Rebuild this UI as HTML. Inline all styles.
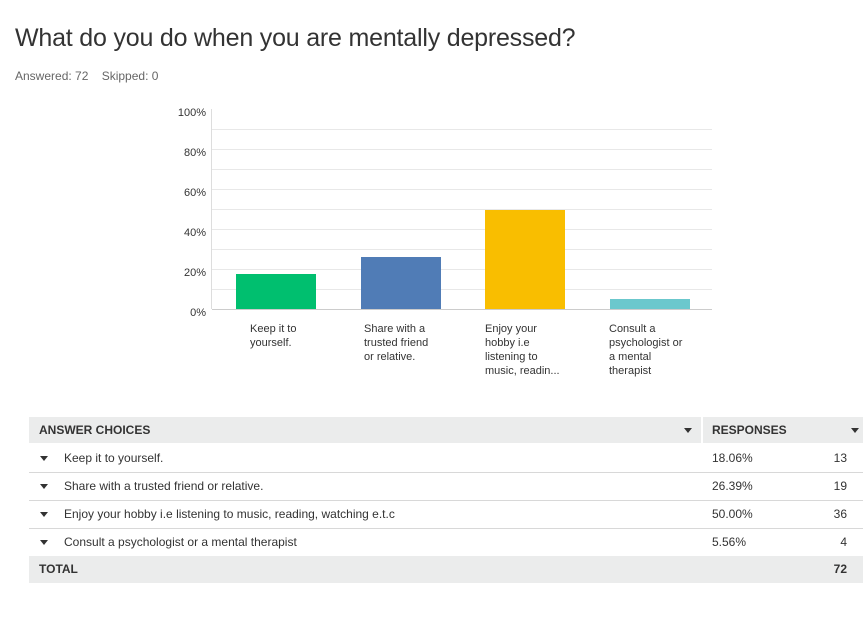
<!DOCTYPE html>
<html><head><meta charset="utf-8"><style>
body{margin:0;width:863px;height:618px;background:#fff;font-family:"Liberation Sans",sans-serif;color:#333;position:relative;overflow:hidden}
.a{position:absolute}
h1{position:absolute;left:15px;top:24px;margin:0;font-weight:normal;font-size:25px;color:#333;letter-spacing:-0.2px}
.yl{position:absolute;right:657px;font-size:11px;color:#333;width:40px;text-align:right}
.xl{position:absolute;top:322px;font-size:11px;line-height:14px;color:#333}
.row{position:absolute;left:29px;width:834px;height:28px;font-size:12px;line-height:28px;border-bottom:1px solid #d8d8d8}
.tri{display:inline-block;width:0;height:0;border-left:4px solid transparent;border-right:4px solid transparent;border-top:5px solid #333;vertical-align:middle}
</style></head><body>
<h1>What do you do when you are mentally depressed?</h1>
<div class="a" style="left:15px;top:69px;font-size:12px;color:#666">Answered: 72&nbsp;&nbsp;&nbsp;&nbsp;Skipped: 0</div>
<svg class="a" style="left:0;top:0" width="863" height="400">
<g stroke="#e8e8e8" stroke-width="1">
<line x1="212" x2="712" y1="129.5" y2="129.5"/><line x1="212" x2="712" y1="149.5" y2="149.5"/><line x1="212" x2="712" y1="169.5" y2="169.5"/><line x1="212" x2="712" y1="189.5" y2="189.5"/><line x1="212" x2="712" y1="209.5" y2="209.5"/><line x1="212" x2="712" y1="229.5" y2="229.5"/><line x1="212" x2="712" y1="249.5" y2="249.5"/><line x1="212" x2="712" y1="269.5" y2="269.5"/><line x1="212" x2="712" y1="289.5" y2="289.5"/>
</g>
<line x1="211.5" x2="211.5" y1="109" y2="309" stroke="#ddd"/>
<line x1="212" x2="712" y1="309.5" y2="309.5" stroke="#ccc"/>
<rect x="236" y="274" width="80" height="35" fill="#00bf6f"/>
<rect x="361" y="257" width="80" height="52" fill="#507cb6"/>
<rect x="485" y="210" width="80" height="99" fill="#f9be00"/>
<rect x="610" y="299" width="80" height="10" fill="#6bc8cd"/>
</svg>
<div class="yl" style="top:107px">100%</div>
<div class="yl" style="top:147px">80%</div>
<div class="yl" style="top:187px">60%</div>
<div class="yl" style="top:227px">40%</div>
<div class="yl" style="top:267px">20%</div>
<div class="yl" style="top:307px">0%</div>
<div class="xl" style="left:250px">Keep it to<br>yourself.</div>
<div class="xl" style="left:364px">Share with a<br>trusted friend<br>or relative.</div>
<div class="xl" style="left:485px">Enjoy your<br>hobby i.e<br>listening to<br>music, readin...</div>
<div class="xl" style="left:609px">Consult a<br>psychologist or<br>a mental<br>therapist</div>
<div class="row" style="top:417px;height:26px;line-height:26px;background:#ebecec;border:none;font-weight:bold">
<span style="position:absolute;left:10px">ANSWER CHOICES</span>
<span class="tri" style="position:absolute;left:655px;top:11px"></span>
<span style="position:absolute;left:672px;top:0;width:2px;height:26px;background:#fff"></span>
<span style="position:absolute;left:683px">RESPONSES</span>
<span class="tri" style="position:absolute;left:822px;top:11px"></span></div>
<div class="row" style="top:444px"><span class="tri" style="position:absolute;left:11px;top:12px"></span><span style="position:absolute;left:35px">Keep it to yourself.</span><span style="position:absolute;left:683px">18.06%</span><span style="position:absolute;right:16px">13</span></div>
<div class="row" style="top:472px"><span class="tri" style="position:absolute;left:11px;top:12px"></span><span style="position:absolute;left:35px">Share with a trusted friend or relative.</span><span style="position:absolute;left:683px">26.39%</span><span style="position:absolute;right:16px">19</span></div>
<div class="row" style="top:500px"><span class="tri" style="position:absolute;left:11px;top:12px"></span><span style="position:absolute;left:35px">Enjoy your hobby i.e listening to music, reading, watching e.t.c</span><span style="position:absolute;left:683px">50.00%</span><span style="position:absolute;right:16px">36</span></div>
<div class="row" style="top:528px;border:none"><span class="tri" style="position:absolute;left:11px;top:12px"></span><span style="position:absolute;left:35px">Consult a psychologist or a mental therapist</span><span style="position:absolute;left:683px">5.56%</span><span style="position:absolute;right:16px">4</span></div>
<div class="row" style="top:556px;height:27px;line-height:27px;background:#ebecec;border:none;font-weight:bold"><span style="position:absolute;left:10px">TOTAL</span><span style="position:absolute;right:16px">72</span></div>
</body></html>
